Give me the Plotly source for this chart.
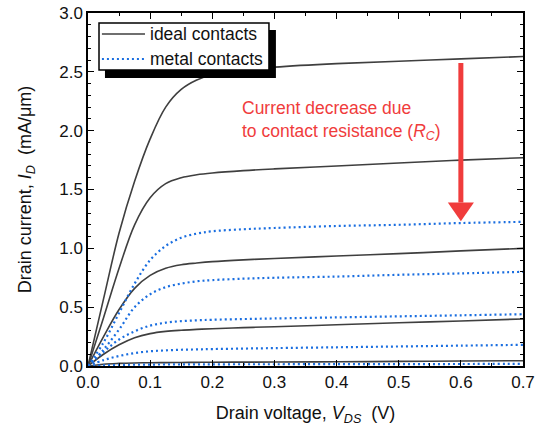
import plotly.graph_objects as go

# Drain voltage grid (V)
vds = [0, 0.025, 0.05, 0.075, 0.1, 0.125, 0.15, 0.175, 0.2, 0.25, 0.3, 0.4, 0.5, 0.6, 0.7]

# Ideal contacts (mA/um)
ideal_1 = [0, 0.57, 1.13, 1.57, 1.93, 2.20, 2.35, 2.43, 2.475, 2.515, 2.54, 2.57, 2.59, 2.61, 2.63]
ideal_2 = [0, 0.41, 0.83, 1.20, 1.43, 1.55, 1.60, 1.625, 1.64, 1.66, 1.675, 1.70, 1.725, 1.75, 1.77]
ideal_3 = [0, 0.25, 0.48, 0.66, 0.77, 0.83, 0.86, 0.875, 0.887, 0.902, 0.913, 0.935, 0.955, 0.978, 1.00]
ideal_4 = [0, 0.10, 0.18, 0.24, 0.275, 0.294, 0.304, 0.311, 0.317, 0.326, 0.334, 0.35, 0.367, 0.383, 0.40]
ideal_5 = [0, 0.015, 0.022, 0.026, 0.028, 0.029, 0.030, 0.031, 0.032, 0.033, 0.034, 0.036, 0.039, 0.042, 0.045]

# Metal contacts (mA/um)
metal_1 = [0, 0.20, 0.45, 0.70, 0.90, 1.02, 1.09, 1.125, 1.145, 1.162, 1.173, 1.19, 1.20, 1.215, 1.225]
metal_2 = [0, 0.14, 0.31, 0.50, 0.61, 0.67, 0.70, 0.72, 0.73, 0.742, 0.75, 0.76, 0.775, 0.787, 0.80]
metal_3 = [0, 0.12, 0.225, 0.295, 0.343, 0.368, 0.381, 0.388, 0.393, 0.399, 0.404, 0.413, 0.422, 0.431, 0.44]
metal_4 = [0, 0.05, 0.085, 0.11, 0.125, 0.133, 0.138, 0.141, 0.144, 0.148, 0.152, 0.159, 0.166, 0.173, 0.18]
metal_5 = [0, 0.006, 0.009, 0.011, 0.012, 0.013, 0.013, 0.014, 0.014, 0.015, 0.015, 0.016, 0.016, 0.017, 0.018]

ideal_curves = [ideal_1, ideal_2, ideal_3, ideal_4, ideal_5]
metal_curves = [metal_1, metal_2, metal_3, metal_4, metal_5]

legend_labels = ["ideal contacts", "metal contacts"]

# Arrow annotation (data units)
arrow_x = 0.6
arrow_top = 2.575
arrow_tip = 1.23

FONT = "Liberation Sans, Arial, sans-serif"
GRAY = "#3f3f3f"
BLUE = "#1a6ee0"
RED = "#f03c3c"

fig = go.Figure()

for i, y in enumerate(ideal_curves):
    fig.add_trace(go.Scatter(
        x=vds, y=y, mode="lines", name=legend_labels[0],
        line=dict(color=GRAY, width=1.6, shape="spline", smoothing=1.0),
        showlegend=False, legendgroup="ideal"))

for i, y in enumerate(metal_curves):
    fig.add_trace(go.Scatter(
        x=vds, y=y, mode="lines", name=legend_labels[1],
        line=dict(color=BLUE, width=2.2, dash="2px,3px", shape="spline", smoothing=1.0),
        showlegend=False, legendgroup="metal"))

# arrow shaft and head
head_h = 0.16
head_dx = 0.021
fig.add_shape(type="line", xref="x", yref="y", x0=arrow_x, x1=arrow_x,
              y0=arrow_top, y1=arrow_tip + head_h, line=dict(color=RED, width=5))
fig.add_shape(type="path", xref="x", yref="y",
              path=f"M {arrow_x - head_dx},{arrow_tip + head_h} L {arrow_x + head_dx},{arrow_tip + head_h} L {arrow_x},{arrow_tip} Z",
              fillcolor=RED, line=dict(color=RED, width=0))

fig.add_annotation(x=0.245, y=2.09, xref="x", yref="y", xanchor="left", yanchor="middle",
                   align="left", showarrow=False,
                   text="Current decrease due<br>to contact resistance (<i>R<sub>C</sub></i>)",
                   font=dict(family=FONT, size=17.5, color=RED))

# ---- legend box (drawn with shapes + text) ----
# drop shadow
fig.add_shape(type="rect", xref="paper", yref="paper",
              x0=0.039, x1=0.432, y0=0.816, y1=0.952,
              fillcolor="black", line=dict(width=0), layer="above")
# box
fig.add_shape(type="rect", xref="paper", yref="paper",
              x0=0.0253, x1=0.416, y0=0.8385, y1=0.9717,
              fillcolor="white", line=dict(color="black", width=1.5), layer="above")
# sample lines
fig.add_shape(type="line", xref="paper", yref="paper",
              x0=0.032, x1=0.131, y0=0.9405, y1=0.9405,
              line=dict(color=GRAY, width=1.6), layer="above")
fig.add_shape(type="line", xref="paper", yref="paper",
              x0=0.032, x1=0.131, y0=0.8697, y1=0.8697,
              line=dict(color=BLUE, width=2.2, dash="2px,3px"), layer="above")
for lbl, yy in zip(legend_labels, [0.9405, 0.8697]):
    fig.add_annotation(x=0.138, y=yy, xref="paper", yref="paper",
                       xanchor="left", yanchor="middle", showarrow=False,
                       text=lbl, font=dict(family=FONT, size=17.5, color="#111"))

axis_common = dict(
    showline=True, linecolor="black", linewidth=1.5, mirror="ticks",
    ticks="inside", ticklen=6, tickwidth=1.3, tickcolor="black",
    showgrid=False, zeroline=False, automargin=False,
    tickfont=dict(family=FONT, size=17, color="#111"),
)

fig.update_xaxes(range=[0, 0.7], dtick=0.1, tickformat=".1f",
                 minor=dict(dtick=0.05, ticks="inside", ticklen=3, tickcolor="black", showgrid=False),
                 title=dict(text="Drain voltage, <i>V<sub>DS</sub></i>  (V)",
                            font=dict(family=FONT, size=18, color="#111"), standoff=15),
                 **axis_common)
fig.update_yaxes(range=[0, 3.0], dtick=0.5, tickformat=".1f",
                 minor=dict(dtick=0.1, ticks="inside", ticklen=3, tickcolor="black", showgrid=False),
                 title=dict(text="Drain current, <i>I<sub>D</sub></i>  (mA/μm)",
                            font=dict(family=FONT, size=18, color="#111"), standoff=23),
                 **axis_common)

fig.update_layout(
    width=544, height=428,
    margin=dict(l=88, r=21, t=13, b=62),
    paper_bgcolor="white", plot_bgcolor="white",
    font=dict(family=FONT, color="#111"),
    showlegend=False,
)

fig.write_html("out.html")
